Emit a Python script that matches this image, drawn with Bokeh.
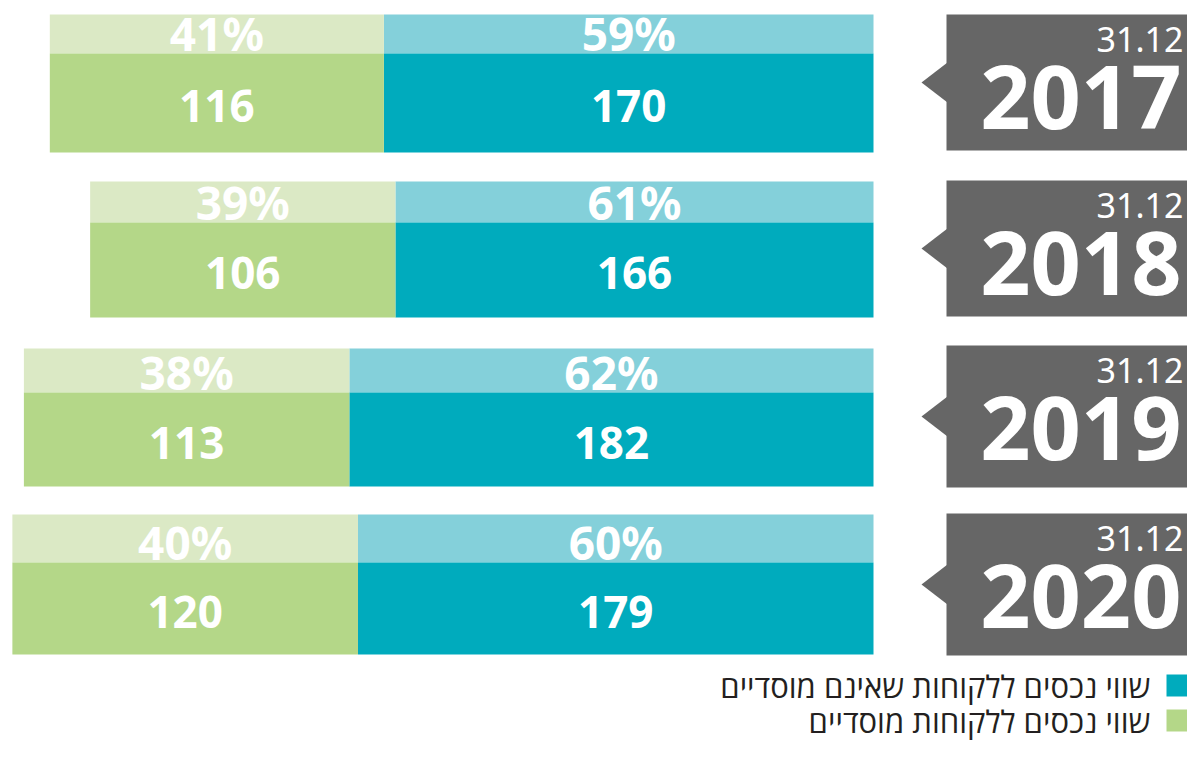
from bokeh.plotting import figure
from bokeh.models import Range1d, ColumnDataSource
from bokeh.core.properties import value
from bokeh.embed import file_html
from bokeh.resources import INLINE

# ---------------- data ----------------
years = ["2017", "2018", "2019", "2020"]
date_label = "31.12"
institutional = [116, 106, 113, 120]          # green
non_institutional = [170, 166, 182, 179]      # teal
institutional_pct = [41, 39, 38, 40]
non_institutional_pct = [59, 61, 62, 60]
legend_labels = ["שווי נכסים ללקוחות שאינם מוסדיים", "שווי נכסים ללקוחות מוסדיים"]

# ---------------- style / layout ----------------
TEAL, TEAL_L = "#00abbd", "#84d0da"
GREEN, GREEN_L = "#b4d788", "#dbe9c5"
GREY = "#666666"
FONT = "Noto Sans"
HEB_FONT = "Open Sans, Liberation Sans, DejaVu Sans"

W, H = 1187, 746
PX_PER_UNIT = 2.88
BAR_RIGHT = 873          # px where value 0 sits
K = 0.40                 # baseline correction (fraction of font size)

row_top = [14, 181, 348, 514]
row_split = [53, 222, 392, 562]
row_bottom = [152, 317, 486, 654]
box_top = [14, 180, 345, 513]
box_bottom = [150, 316, 487, 655]

p = figure(width=W, height=H,
           x_range=Range1d(BAR_RIGHT / PX_PER_UNIT, (BAR_RIGHT - W) / PX_PER_UNIT),
           y_range=Range1d(H, 0),
           output_backend="svg", toolbar_location=None, min_border=0,
           x_axis_location=None, y_axis_location=None)
p.extra_x_ranges = {"px": Range1d(0, W)}
p.grid.visible = False
p.outline_line_color = None
p.background_fill_color = "white"
p.border_fill_color = "white"

totals = [a + b for a, b in zip(institutional, non_institutional)]
src = ColumnDataSource(dict(
    zero=[0] * 4,
    teal=non_institutional,
    total=totals,
    top=row_top, split=row_split, bottom=row_bottom,
    teal_mid=[v / 2 for v in non_institutional],
    green_mid=[t + g / 2 for t, g in zip(non_institutional, institutional)],
    pct_y=[s - 2 - K * 46 for s in row_split],
    val_y=[(s + b) / 2 + 21 - K * 44 for s, b in zip(row_split, row_bottom)],
    teal_pct=[f"{v}%" for v in non_institutional_pct],
    green_pct=[f"{v}%" for v in institutional_pct],
    teal_val=[str(v) for v in non_institutional],
    green_val=[str(v) for v in institutional],
))

# bars: light top band + dark main band
p.quad(left="teal", right="zero", top="top", bottom="split", source=src, fill_color=TEAL_L, line_color=None)
p.quad(left="teal", right="zero", top="split", bottom="bottom", source=src, fill_color=TEAL, line_color=None)
p.quad(left="total", right="teal", top="top", bottom="split", source=src, fill_color=GREEN_L, line_color=None)
p.quad(left="total", right="teal", top="split", bottom="bottom", source=src, fill_color=GREEN, line_color=None)

for xcol, tcol in (("teal_mid", "teal_pct"), ("green_mid", "green_pct")):
    p.text(x=xcol, y="pct_y", text=tcol, source=src, text_align="center", text_baseline="alphabetic",
           text_color="white", text_font=value(FONT), text_font_style="bold", text_font_size="46px")
for xcol, tcol in (("teal_mid", "teal_val"), ("green_mid", "green_val")):
    p.text(x=xcol, y="val_y", text=tcol, source=src, text_align="center", text_baseline="alphabetic",
           text_color="white", text_font=value(FONT), text_font_style="bold", text_font_size="44px")

# year tags (decoration in pixel range)
centers = [(t + b) / 2 for t, b in zip(box_top, box_bottom)]
bsrc = ColumnDataSource(dict(
    left=[946] * 4, right=[W + 5] * 4, top=box_top, bottom=box_bottom,
    year=years, date=[date_label] * 4,
    date_x=[1183] * 4, date_y=[t + 39 - K * 34 for t in box_top],
    year_x=[1181] * 4, year_y=[t + 112 - 0.33 * 88 for t in box_top],
))
p.quad(left="left", right="right", top="top", bottom="bottom", source=bsrc,
       fill_color=GREY, line_color=None, x_range_name="px")
p.patches(xs=[[921, 947, 947] for _ in centers], ys=[[c, c - 20, c + 20] for c in centers],
          fill_color=GREY, line_color=None, x_range_name="px")
p.text(x="date_x", y="date_y", text="date", source=bsrc, x_range_name="px", text_align="right",
       text_baseline="alphabetic", text_color="white", text_font=value(FONT), text_font_size="34px")
p.text(x="year_x", y="year_y", text="year", source=bsrc, x_range_name="px", text_align="right",
       text_baseline="alphabetic", text_color="white", text_font=value(FONT), text_font_style="bold",
       text_font_size="88px")

# legend
leg_base = [698, 733]
LEG_FS = 31
lsrc = ColumnDataSource(dict(
    left=[1166, 1166], right=[W + 2, W + 2], top=[b - 24 for b in leg_base], bottom=[b - 2 for b in leg_base],
    color=[TEAL, GREEN], label=legend_labels, tx=[1150, 1150], ty=[b - K * LEG_FS for b in leg_base],
))
p.quad(left="left", right="right", top="top", bottom="bottom", fill_color="color", line_color=None,
       source=lsrc, x_range_name="px")
p.text(x="tx", y="ty", text="label", source=lsrc, x_range_name="px", text_align="right",
       text_baseline="alphabetic", text_color="#231f20", text_font=value(HEB_FONT),
       text_font_size=f"{LEG_FS}px")

open("out.html", "w").write(file_html(p, INLINE))
